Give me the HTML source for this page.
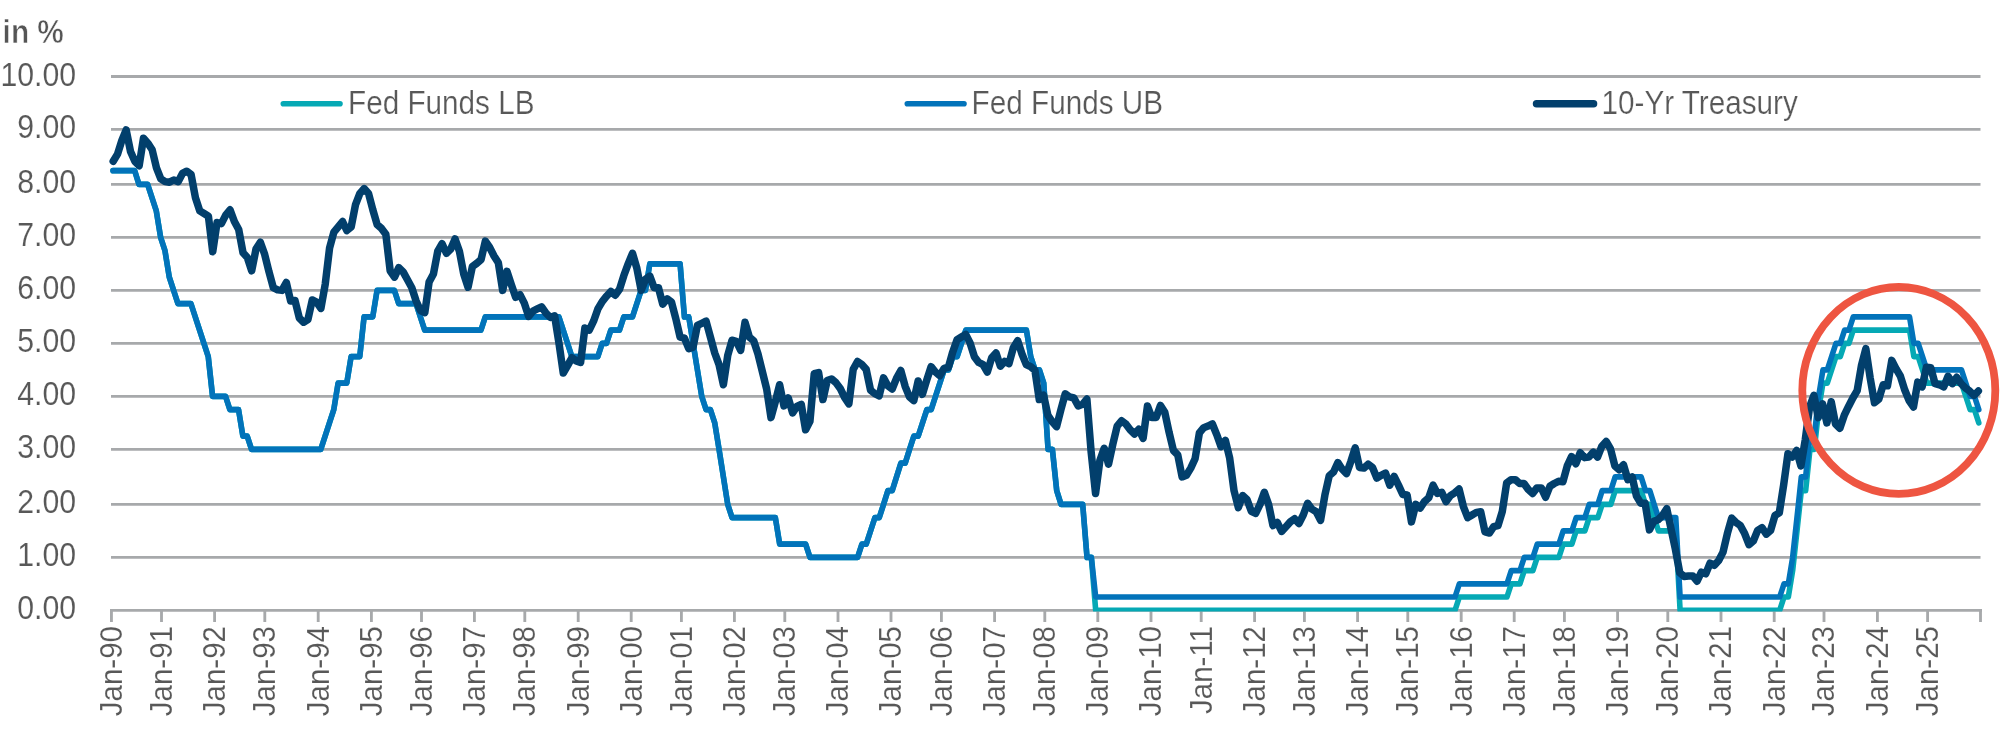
<!DOCTYPE html>
<html><head><meta charset="utf-8"><style>
html,body{margin:0;padding:0;background:#fff;}
body{width:2000px;height:734px;overflow:hidden;font-family:"Liberation Sans",sans-serif;}
svg{display:block;will-change:transform;}
</style></head><body>
<svg width="2000" height="734" viewBox="0 0 2000 734">
<line x1="111" y1="557.4" x2="1980.5" y2="557.4" stroke="#a7a9ab" stroke-width="2.9"/>
<line x1="111" y1="504.4" x2="1980.5" y2="504.4" stroke="#a7a9ab" stroke-width="2.9"/>
<line x1="111" y1="449.4" x2="1980.5" y2="449.4" stroke="#a7a9ab" stroke-width="2.9"/>
<line x1="111" y1="396.4" x2="1980.5" y2="396.4" stroke="#a7a9ab" stroke-width="2.9"/>
<line x1="111" y1="343.4" x2="1980.5" y2="343.4" stroke="#a7a9ab" stroke-width="2.9"/>
<line x1="111" y1="290.4" x2="1980.5" y2="290.4" stroke="#a7a9ab" stroke-width="2.9"/>
<line x1="111" y1="237.4" x2="1980.5" y2="237.4" stroke="#a7a9ab" stroke-width="2.9"/>
<line x1="111" y1="184.4" x2="1980.5" y2="184.4" stroke="#a7a9ab" stroke-width="2.9"/>
<line x1="111" y1="129.4" x2="1980.5" y2="129.4" stroke="#a7a9ab" stroke-width="2.9"/>
<line x1="111" y1="76.5" x2="1980.5" y2="76.5" stroke="#a7a9ab" stroke-width="2.9"/>
<line x1="110.0" y1="610.3" x2="1982.0" y2="610.3" stroke="#a7a9ab" stroke-width="2.85"/>
<line x1="111.45" y1="609" x2="111.45" y2="622" stroke="#a7a9ab" stroke-width="2.85"/>
<line x1="161.5" y1="609" x2="161.5" y2="622" stroke="#a7a9ab" stroke-width="2.85"/>
<line x1="214.6" y1="609" x2="214.6" y2="622" stroke="#a7a9ab" stroke-width="2.85"/>
<line x1="264.8" y1="609" x2="264.8" y2="622" stroke="#a7a9ab" stroke-width="2.85"/>
<line x1="318.2" y1="609" x2="318.2" y2="622" stroke="#a7a9ab" stroke-width="2.85"/>
<line x1="371.4" y1="609" x2="371.4" y2="622" stroke="#a7a9ab" stroke-width="2.85"/>
<line x1="421.5" y1="609" x2="421.5" y2="622" stroke="#a7a9ab" stroke-width="2.85"/>
<line x1="474.4" y1="609" x2="474.4" y2="622" stroke="#a7a9ab" stroke-width="2.85"/>
<line x1="524.8" y1="609" x2="524.8" y2="622" stroke="#a7a9ab" stroke-width="2.85"/>
<line x1="578.2" y1="609" x2="578.2" y2="622" stroke="#a7a9ab" stroke-width="2.85"/>
<line x1="631.2" y1="609" x2="631.2" y2="622" stroke="#a7a9ab" stroke-width="2.85"/>
<line x1="681.4" y1="609" x2="681.4" y2="622" stroke="#a7a9ab" stroke-width="2.85"/>
<line x1="734.4" y1="609" x2="734.4" y2="622" stroke="#a7a9ab" stroke-width="2.85"/>
<line x1="784.8" y1="609" x2="784.8" y2="622" stroke="#a7a9ab" stroke-width="2.85"/>
<line x1="838.0" y1="609" x2="838.0" y2="622" stroke="#a7a9ab" stroke-width="2.85"/>
<line x1="891.0" y1="609" x2="891.0" y2="622" stroke="#a7a9ab" stroke-width="2.85"/>
<line x1="941.4" y1="609" x2="941.4" y2="622" stroke="#a7a9ab" stroke-width="2.85"/>
<line x1="994.6" y1="609" x2="994.6" y2="622" stroke="#a7a9ab" stroke-width="2.85"/>
<line x1="1044.8" y1="609" x2="1044.8" y2="622" stroke="#a7a9ab" stroke-width="2.85"/>
<line x1="1097.8" y1="609" x2="1097.8" y2="622" stroke="#a7a9ab" stroke-width="2.85"/>
<line x1="1151.0" y1="609" x2="1151.0" y2="622" stroke="#a7a9ab" stroke-width="2.85"/>
<line x1="1201.2" y1="609" x2="1201.2" y2="622" stroke="#a7a9ab" stroke-width="2.85"/>
<line x1="1254.6" y1="609" x2="1254.6" y2="622" stroke="#a7a9ab" stroke-width="2.85"/>
<line x1="1304.4" y1="609" x2="1304.4" y2="622" stroke="#a7a9ab" stroke-width="2.85"/>
<line x1="1357.6" y1="609" x2="1357.6" y2="622" stroke="#a7a9ab" stroke-width="2.85"/>
<line x1="1407.8" y1="609" x2="1407.8" y2="622" stroke="#a7a9ab" stroke-width="2.85"/>
<line x1="1461.2" y1="609" x2="1461.2" y2="622" stroke="#a7a9ab" stroke-width="2.85"/>
<line x1="1514.2" y1="609" x2="1514.2" y2="622" stroke="#a7a9ab" stroke-width="2.85"/>
<line x1="1564.4" y1="609" x2="1564.4" y2="622" stroke="#a7a9ab" stroke-width="2.85"/>
<line x1="1617.6" y1="609" x2="1617.6" y2="622" stroke="#a7a9ab" stroke-width="2.85"/>
<line x1="1667.8" y1="609" x2="1667.8" y2="622" stroke="#a7a9ab" stroke-width="2.85"/>
<line x1="1721.0" y1="609" x2="1721.0" y2="622" stroke="#a7a9ab" stroke-width="2.85"/>
<line x1="1774.2" y1="609" x2="1774.2" y2="622" stroke="#a7a9ab" stroke-width="2.85"/>
<line x1="1824.0" y1="609" x2="1824.0" y2="622" stroke="#a7a9ab" stroke-width="2.85"/>
<line x1="1877.4" y1="609" x2="1877.4" y2="622" stroke="#a7a9ab" stroke-width="2.85"/>
<line x1="1927.6" y1="609" x2="1927.6" y2="622" stroke="#a7a9ab" stroke-width="2.85"/>
<line x1="1980.5" y1="609" x2="1980.5" y2="622" stroke="#a7a9ab" stroke-width="2.85"/>
<text transform="translate(76.1,619.3) scale(0.925,1)" text-anchor="end" font-family="Liberation Sans" font-size="32.7" fill="#585858" stroke="#fff" stroke-width="0.12">0.00</text>
<text transform="translate(76.1,566.4) scale(0.925,1)" text-anchor="end" font-family="Liberation Sans" font-size="32.7" fill="#585858" stroke="#fff" stroke-width="0.12">1.00</text>
<text transform="translate(76.1,513.4) scale(0.925,1)" text-anchor="end" font-family="Liberation Sans" font-size="32.7" fill="#585858" stroke="#fff" stroke-width="0.12">2.00</text>
<text transform="translate(76.1,458.4) scale(0.925,1)" text-anchor="end" font-family="Liberation Sans" font-size="32.7" fill="#585858" stroke="#fff" stroke-width="0.12">3.00</text>
<text transform="translate(76.1,405.4) scale(0.925,1)" text-anchor="end" font-family="Liberation Sans" font-size="32.7" fill="#585858" stroke="#fff" stroke-width="0.12">4.00</text>
<text transform="translate(76.1,352.4) scale(0.925,1)" text-anchor="end" font-family="Liberation Sans" font-size="32.7" fill="#585858" stroke="#fff" stroke-width="0.12">5.00</text>
<text transform="translate(76.1,299.4) scale(0.925,1)" text-anchor="end" font-family="Liberation Sans" font-size="32.7" fill="#585858" stroke="#fff" stroke-width="0.12">6.00</text>
<text transform="translate(76.1,246.4) scale(0.925,1)" text-anchor="end" font-family="Liberation Sans" font-size="32.7" fill="#585858" stroke="#fff" stroke-width="0.12">7.00</text>
<text transform="translate(76.1,193.4) scale(0.925,1)" text-anchor="end" font-family="Liberation Sans" font-size="32.7" fill="#585858" stroke="#fff" stroke-width="0.12">8.00</text>
<text transform="translate(76.1,138.4) scale(0.925,1)" text-anchor="end" font-family="Liberation Sans" font-size="32.7" fill="#585858" stroke="#fff" stroke-width="0.12">9.00</text>
<text transform="translate(76.1,85.5) scale(0.925,1)" text-anchor="end" font-family="Liberation Sans" font-size="32.7" fill="#585858" stroke="#fff" stroke-width="0.12">10.00</text>
<text transform="translate(121.8,626) rotate(-90) scale(0.946,1)" text-anchor="end" font-family="Liberation Sans" font-size="31.2" fill="#585858" stroke="#fff" stroke-width="0.12">Jan-90</text>
<text transform="translate(171.8,626) rotate(-90) scale(0.946,1)" text-anchor="end" font-family="Liberation Sans" font-size="31.2" fill="#585858" stroke="#fff" stroke-width="0.12">Jan-91</text>
<text transform="translate(224.9,626) rotate(-90) scale(0.946,1)" text-anchor="end" font-family="Liberation Sans" font-size="31.2" fill="#585858" stroke="#fff" stroke-width="0.12">Jan-92</text>
<text transform="translate(275.1,626) rotate(-90) scale(0.946,1)" text-anchor="end" font-family="Liberation Sans" font-size="31.2" fill="#585858" stroke="#fff" stroke-width="0.12">Jan-93</text>
<text transform="translate(328.5,626) rotate(-90) scale(0.946,1)" text-anchor="end" font-family="Liberation Sans" font-size="31.2" fill="#585858" stroke="#fff" stroke-width="0.12">Jan-94</text>
<text transform="translate(381.7,626) rotate(-90) scale(0.946,1)" text-anchor="end" font-family="Liberation Sans" font-size="31.2" fill="#585858" stroke="#fff" stroke-width="0.12">Jan-95</text>
<text transform="translate(431.8,626) rotate(-90) scale(0.946,1)" text-anchor="end" font-family="Liberation Sans" font-size="31.2" fill="#585858" stroke="#fff" stroke-width="0.12">Jan-96</text>
<text transform="translate(484.7,626) rotate(-90) scale(0.946,1)" text-anchor="end" font-family="Liberation Sans" font-size="31.2" fill="#585858" stroke="#fff" stroke-width="0.12">Jan-97</text>
<text transform="translate(535.1,626) rotate(-90) scale(0.946,1)" text-anchor="end" font-family="Liberation Sans" font-size="31.2" fill="#585858" stroke="#fff" stroke-width="0.12">Jan-98</text>
<text transform="translate(588.5,626) rotate(-90) scale(0.946,1)" text-anchor="end" font-family="Liberation Sans" font-size="31.2" fill="#585858" stroke="#fff" stroke-width="0.12">Jan-99</text>
<text transform="translate(641.5,626) rotate(-90) scale(0.946,1)" text-anchor="end" font-family="Liberation Sans" font-size="31.2" fill="#585858" stroke="#fff" stroke-width="0.12">Jan-00</text>
<text transform="translate(691.7,626) rotate(-90) scale(0.946,1)" text-anchor="end" font-family="Liberation Sans" font-size="31.2" fill="#585858" stroke="#fff" stroke-width="0.12">Jan-01</text>
<text transform="translate(744.7,626) rotate(-90) scale(0.946,1)" text-anchor="end" font-family="Liberation Sans" font-size="31.2" fill="#585858" stroke="#fff" stroke-width="0.12">Jan-02</text>
<text transform="translate(795.1,626) rotate(-90) scale(0.946,1)" text-anchor="end" font-family="Liberation Sans" font-size="31.2" fill="#585858" stroke="#fff" stroke-width="0.12">Jan-03</text>
<text transform="translate(848.3,626) rotate(-90) scale(0.946,1)" text-anchor="end" font-family="Liberation Sans" font-size="31.2" fill="#585858" stroke="#fff" stroke-width="0.12">Jan-04</text>
<text transform="translate(901.3,626) rotate(-90) scale(0.946,1)" text-anchor="end" font-family="Liberation Sans" font-size="31.2" fill="#585858" stroke="#fff" stroke-width="0.12">Jan-05</text>
<text transform="translate(951.7,626) rotate(-90) scale(0.946,1)" text-anchor="end" font-family="Liberation Sans" font-size="31.2" fill="#585858" stroke="#fff" stroke-width="0.12">Jan-06</text>
<text transform="translate(1004.9,626) rotate(-90) scale(0.946,1)" text-anchor="end" font-family="Liberation Sans" font-size="31.2" fill="#585858" stroke="#fff" stroke-width="0.12">Jan-07</text>
<text transform="translate(1055.1,626) rotate(-90) scale(0.946,1)" text-anchor="end" font-family="Liberation Sans" font-size="31.2" fill="#585858" stroke="#fff" stroke-width="0.12">Jan-08</text>
<text transform="translate(1108.1,626) rotate(-90) scale(0.946,1)" text-anchor="end" font-family="Liberation Sans" font-size="31.2" fill="#585858" stroke="#fff" stroke-width="0.12">Jan-09</text>
<text transform="translate(1161.3,626) rotate(-90) scale(0.946,1)" text-anchor="end" font-family="Liberation Sans" font-size="31.2" fill="#585858" stroke="#fff" stroke-width="0.12">Jan-10</text>
<text transform="translate(1211.5,626) rotate(-90) scale(0.946,1)" text-anchor="end" font-family="Liberation Sans" font-size="31.2" fill="#585858" stroke="#fff" stroke-width="0.12">Jan-11</text>
<text transform="translate(1264.9,626) rotate(-90) scale(0.946,1)" text-anchor="end" font-family="Liberation Sans" font-size="31.2" fill="#585858" stroke="#fff" stroke-width="0.12">Jan-12</text>
<text transform="translate(1314.7,626) rotate(-90) scale(0.946,1)" text-anchor="end" font-family="Liberation Sans" font-size="31.2" fill="#585858" stroke="#fff" stroke-width="0.12">Jan-13</text>
<text transform="translate(1367.9,626) rotate(-90) scale(0.946,1)" text-anchor="end" font-family="Liberation Sans" font-size="31.2" fill="#585858" stroke="#fff" stroke-width="0.12">Jan-14</text>
<text transform="translate(1418.1,626) rotate(-90) scale(0.946,1)" text-anchor="end" font-family="Liberation Sans" font-size="31.2" fill="#585858" stroke="#fff" stroke-width="0.12">Jan-15</text>
<text transform="translate(1471.5,626) rotate(-90) scale(0.946,1)" text-anchor="end" font-family="Liberation Sans" font-size="31.2" fill="#585858" stroke="#fff" stroke-width="0.12">Jan-16</text>
<text transform="translate(1524.5,626) rotate(-90) scale(0.946,1)" text-anchor="end" font-family="Liberation Sans" font-size="31.2" fill="#585858" stroke="#fff" stroke-width="0.12">Jan-17</text>
<text transform="translate(1574.7,626) rotate(-90) scale(0.946,1)" text-anchor="end" font-family="Liberation Sans" font-size="31.2" fill="#585858" stroke="#fff" stroke-width="0.12">Jan-18</text>
<text transform="translate(1627.9,626) rotate(-90) scale(0.946,1)" text-anchor="end" font-family="Liberation Sans" font-size="31.2" fill="#585858" stroke="#fff" stroke-width="0.12">Jan-19</text>
<text transform="translate(1678.1,626) rotate(-90) scale(0.946,1)" text-anchor="end" font-family="Liberation Sans" font-size="31.2" fill="#585858" stroke="#fff" stroke-width="0.12">Jan-20</text>
<text transform="translate(1731.3,626) rotate(-90) scale(0.946,1)" text-anchor="end" font-family="Liberation Sans" font-size="31.2" fill="#585858" stroke="#fff" stroke-width="0.12">Jan-21</text>
<text transform="translate(1784.5,626) rotate(-90) scale(0.946,1)" text-anchor="end" font-family="Liberation Sans" font-size="31.2" fill="#585858" stroke="#fff" stroke-width="0.12">Jan-22</text>
<text transform="translate(1834.3,626) rotate(-90) scale(0.946,1)" text-anchor="end" font-family="Liberation Sans" font-size="31.2" fill="#585858" stroke="#fff" stroke-width="0.12">Jan-23</text>
<text transform="translate(1887.7,626) rotate(-90) scale(0.946,1)" text-anchor="end" font-family="Liberation Sans" font-size="31.2" fill="#585858" stroke="#fff" stroke-width="0.12">Jan-24</text>
<text transform="translate(1937.9,626) rotate(-90) scale(0.946,1)" text-anchor="end" font-family="Liberation Sans" font-size="31.2" fill="#585858" stroke="#fff" stroke-width="0.12">Jan-25</text>
<text transform="translate(2.6,43) scale(0.917,1)" font-family="Liberation Sans" font-weight="bold" font-size="32.5" fill="#555555" stroke="#fff" stroke-width="0.6">in %</text>
<line x1="283.3" y1="103.8" x2="340.0" y2="103.8" stroke="#05a9b5" stroke-width="5.6" stroke-linecap="round"/>
<text transform="translate(348.0,113.8) scale(0.9,1)" font-family="Liberation Sans" font-size="33.0" fill="#585858" stroke="#fff" stroke-width="0.25">Fed Funds LB</text>
<line x1="907.3" y1="103.8" x2="964.0" y2="103.8" stroke="#0273ba" stroke-width="5.6" stroke-linecap="round"/>
<text transform="translate(971.6,113.8) scale(0.9,1)" font-family="Liberation Sans" font-size="33.0" fill="#585858" stroke="#fff" stroke-width="0.25">Fed Funds UB</text>
<line x1="1536.55" y1="103.8" x2="1593.55" y2="103.8" stroke="#023f6c" stroke-width="7.5" stroke-linecap="round"/>
<text transform="translate(1601.5,113.8) scale(0.9,1)" font-family="Liberation Sans" font-size="33.0" fill="#585858" stroke="#fff" stroke-width="0.25">10-Yr Treasury</text>
<defs><clipPath id="pc"><rect x="0" y="0" width="2000" height="611.4"/></clipPath></defs><g clip-path="url(#pc)">
<path d="M113.00,170.65 L117.33,170.65 L121.66,170.65 L125.99,170.65 L130.32,170.65 L134.65,170.65 L138.97,184.40 L143.30,184.40 L147.63,184.40 L151.96,197.65 L156.29,210.90 L160.62,237.40 L164.95,250.65 L169.28,277.15 L173.61,290.40 L177.94,303.65 L182.26,303.65 L186.59,303.65 L190.92,303.65 L195.25,316.90 L199.58,330.15 L203.91,343.40 L208.24,356.65 L212.57,396.40 L216.90,396.40 L221.22,396.40 L225.55,396.40 L229.88,409.65 L234.21,409.65 L238.54,409.65 L242.87,436.15 L247.20,436.15 L251.53,449.40 L255.86,449.40 L260.19,449.40 L264.51,449.40 L268.84,449.40 L273.17,449.40 L277.50,449.40 L281.83,449.40 L286.16,449.40 L290.49,449.40 L294.82,449.40 L299.15,449.40 L303.48,449.40 L307.80,449.40 L312.13,449.40 L316.46,449.40 L320.79,449.40 L325.12,436.15 L329.45,422.90 L333.78,409.65 L338.11,383.15 L342.44,383.15 L346.77,383.15 L351.10,356.65 L355.42,356.65 L359.75,356.65 L364.08,316.90 L368.41,316.90 L372.74,316.90 L377.07,290.40 L381.40,290.40 L385.73,290.40 L390.06,290.40 L394.38,290.40 L398.71,303.65 L403.04,303.65 L407.37,303.65 L411.70,303.65 L416.03,303.65 L420.36,316.90 L424.69,330.15 L429.02,330.15 L433.35,330.15 L437.67,330.15 L442.00,330.15 L446.33,330.15 L450.66,330.15 L454.99,330.15 L459.32,330.15 L463.65,330.15 L467.98,330.15 L472.31,330.15 L476.64,330.15 L480.96,330.15 L485.29,316.90 L489.62,316.90 L493.95,316.90 L498.28,316.90 L502.61,316.90 L506.94,316.90 L511.27,316.90 L515.60,316.90 L519.93,316.90 L524.25,316.90 L528.58,316.90 L532.91,316.90 L537.24,316.90 L541.57,316.90 L545.90,316.90 L550.23,316.90 L554.56,316.90 L558.89,316.90 L563.22,330.15 L567.54,343.40 L571.87,356.65 L576.20,356.65 L580.53,356.65 L584.86,356.65 L589.19,356.65 L593.52,356.65 L597.85,356.65 L602.18,343.40 L606.51,343.40 L610.84,330.15 L615.16,330.15 L619.49,330.15 L623.82,316.90 L628.15,316.90 L632.48,316.90 L636.81,303.65 L641.14,290.40 L645.47,290.40 L649.80,263.90 L654.12,263.90 L658.45,263.90 L662.78,263.90 L667.11,263.90 L671.44,263.90 L675.77,263.90 L680.10,263.90 L684.43,316.90 L688.76,316.90 L693.09,343.40 L697.41,369.90 L701.74,396.40 L706.07,409.65 L710.40,409.65 L714.73,422.90 L719.06,449.40 L723.39,476.90 L727.72,504.40 L732.05,517.65 L736.38,517.65 L740.70,517.65 L745.03,517.65 L749.36,517.65 L753.69,517.65 L758.02,517.65 L762.35,517.65 L766.68,517.65 L771.01,517.65 L775.34,517.65 L779.67,544.15 L784.00,544.15 L788.32,544.15 L792.65,544.15 L796.98,544.15 L801.31,544.15 L805.64,544.15 L809.97,557.40 L814.30,557.40 L818.63,557.40 L822.96,557.40 L827.28,557.40 L831.61,557.40 L835.94,557.40 L840.27,557.40 L844.60,557.40 L848.93,557.40 L853.26,557.40 L857.59,557.40 L861.92,544.15 L866.25,544.15 L870.57,530.90 L874.90,517.65 L879.23,517.65 L883.56,504.40 L887.89,490.65 L892.22,490.65 L896.55,476.90 L900.88,463.15 L905.21,463.15 L909.54,449.40 L913.86,436.15 L918.19,436.15 L922.52,422.90 L926.85,409.65 L931.18,409.65 L935.51,396.40 L939.84,383.15 L944.17,369.90 L948.50,369.90 L952.83,356.65 L957.15,356.65 L961.48,343.40 L965.81,330.15 L970.14,330.15 L974.47,330.15 L978.80,330.15 L983.13,330.15 L987.46,330.15 L991.79,330.15 L996.12,330.15 L1000.44,330.15 L1004.77,330.15 L1009.10,330.15 L1013.43,330.15 L1017.76,330.15 L1022.09,330.15 L1026.42,330.15 L1030.75,356.65 L1035.08,369.90 L1039.41,369.90 L1043.73,383.15 L1048.06,449.40 L1052.39,449.40 L1056.72,490.65 L1061.05,504.40 L1065.38,504.40 L1069.71,504.40 L1074.04,504.40 L1078.37,504.40 L1082.70,504.40 L1087.03,557.40 L1091.35,557.40 L1095.68,610.30 L1100.01,610.30 L1104.34,610.30 L1108.67,610.30 L1113.00,610.30 L1117.33,610.30 L1121.66,610.30 L1125.99,610.30 L1130.32,610.30 L1134.64,610.30 L1138.97,610.30 L1143.30,610.30 L1147.63,610.30 L1151.96,610.30 L1156.29,610.30 L1160.62,610.30 L1164.95,610.30 L1169.28,610.30 L1173.61,610.30 L1177.93,610.30 L1182.26,610.30 L1186.59,610.30 L1190.92,610.30 L1195.25,610.30 L1199.58,610.30 L1203.91,610.30 L1208.24,610.30 L1212.57,610.30 L1216.89,610.30 L1221.22,610.30 L1225.55,610.30 L1229.88,610.30 L1234.21,610.30 L1238.54,610.30 L1242.87,610.30 L1247.20,610.30 L1251.53,610.30 L1255.86,610.30 L1260.18,610.30 L1264.51,610.30 L1268.84,610.30 L1273.17,610.30 L1277.50,610.30 L1281.83,610.30 L1286.16,610.30 L1290.49,610.30 L1294.82,610.30 L1299.15,610.30 L1303.47,610.30 L1307.80,610.30 L1312.13,610.30 L1316.46,610.30 L1320.79,610.30 L1325.12,610.30 L1329.45,610.30 L1333.78,610.30 L1338.11,610.30 L1342.44,610.30 L1346.76,610.30 L1351.09,610.30 L1355.42,610.30 L1359.75,610.30 L1364.08,610.30 L1368.41,610.30 L1372.74,610.30 L1377.07,610.30 L1381.40,610.30 L1385.73,610.30 L1390.05,610.30 L1394.38,610.30 L1398.71,610.30 L1403.04,610.30 L1407.37,610.30 L1411.70,610.30 L1416.03,610.30 L1420.36,610.30 L1424.69,610.30 L1429.02,610.30 L1433.35,610.30 L1437.67,610.30 L1442.00,610.30 L1446.33,610.30 L1450.66,610.30 L1454.99,610.30 L1459.32,597.07 L1463.65,597.07 L1467.98,597.07 L1472.31,597.07 L1476.63,597.07 L1480.96,597.07 L1485.29,597.07 L1489.62,597.07 L1493.95,597.07 L1498.28,597.07 L1502.61,597.07 L1506.94,597.07 L1511.27,583.85 L1515.60,583.85 L1519.92,583.85 L1524.25,570.62 L1528.58,570.62 L1532.91,570.62 L1537.24,557.40 L1541.57,557.40 L1545.90,557.40 L1550.23,557.40 L1554.56,557.40 L1558.89,557.40 L1563.21,544.15 L1567.54,544.15 L1571.87,544.15 L1576.20,530.90 L1580.53,530.90 L1584.86,530.90 L1589.19,517.65 L1593.52,517.65 L1597.85,517.65 L1602.18,504.40 L1606.50,504.40 L1610.83,504.40 L1615.16,490.65 L1619.49,490.65 L1623.82,490.65 L1628.15,490.65 L1632.48,490.65 L1636.81,490.65 L1641.14,490.65 L1645.47,504.40 L1649.79,504.40 L1654.12,517.65 L1658.45,530.90 L1662.78,530.90 L1667.11,530.90 L1671.44,530.90 L1675.77,530.90 L1680.10,610.30 L1684.43,610.30 L1688.76,610.30 L1693.08,610.30 L1697.41,610.30 L1701.74,610.30 L1706.07,610.30 L1710.40,610.30 L1714.73,610.30 L1719.06,610.30 L1723.39,610.30 L1727.72,610.30 L1732.05,610.30 L1736.38,610.30 L1740.70,610.30 L1745.03,610.30 L1749.36,610.30 L1753.69,610.30 L1758.02,610.30 L1762.35,610.30 L1766.68,610.30 L1771.01,610.30 L1775.34,610.30 L1779.66,610.30 L1783.99,597.07 L1788.32,597.07 L1792.65,570.62 L1796.98,530.90 L1801.31,490.65 L1805.64,490.65 L1809.97,449.40 L1814.30,449.40 L1818.63,409.65 L1822.95,383.15 L1827.28,383.15 L1831.61,369.90 L1835.94,356.65 L1840.27,356.65 L1844.60,343.40 L1848.93,343.40 L1853.26,330.15 L1857.59,330.15 L1861.92,330.15 L1866.24,330.15 L1870.57,330.15 L1874.90,330.15 L1879.23,330.15 L1883.56,330.15 L1887.89,330.15 L1892.22,330.15 L1896.55,330.15 L1900.88,330.15 L1905.21,330.15 L1909.53,330.15 L1913.86,356.65 L1918.19,356.65 L1922.52,369.90 L1926.85,383.15 L1931.18,383.15 L1935.51,383.15 L1939.84,383.15 L1944.17,383.15 L1948.50,383.15 L1952.82,383.15 L1957.15,383.15 L1961.48,383.15 L1965.81,396.40 L1970.14,409.65 L1974.47,409.65 L1978.80,422.90" fill="none" stroke="#05a9b5" stroke-width="5.6" stroke-linejoin="round" stroke-linecap="round"/>
<path d="M113.00,170.65 L117.33,170.65 L121.66,170.65 L125.99,170.65 L130.32,170.65 L134.65,170.65 L138.97,184.40 L143.30,184.40 L147.63,184.40 L151.96,197.65 L156.29,210.90 L160.62,237.40 L164.95,250.65 L169.28,277.15 L173.61,290.40 L177.94,303.65 L182.26,303.65 L186.59,303.65 L190.92,303.65 L195.25,316.90 L199.58,330.15 L203.91,343.40 L208.24,356.65 L212.57,396.40 L216.90,396.40 L221.22,396.40 L225.55,396.40 L229.88,409.65 L234.21,409.65 L238.54,409.65 L242.87,436.15 L247.20,436.15 L251.53,449.40 L255.86,449.40 L260.19,449.40 L264.51,449.40 L268.84,449.40 L273.17,449.40 L277.50,449.40 L281.83,449.40 L286.16,449.40 L290.49,449.40 L294.82,449.40 L299.15,449.40 L303.48,449.40 L307.80,449.40 L312.13,449.40 L316.46,449.40 L320.79,449.40 L325.12,436.15 L329.45,422.90 L333.78,409.65 L338.11,383.15 L342.44,383.15 L346.77,383.15 L351.10,356.65 L355.42,356.65 L359.75,356.65 L364.08,316.90 L368.41,316.90 L372.74,316.90 L377.07,290.40 L381.40,290.40 L385.73,290.40 L390.06,290.40 L394.38,290.40 L398.71,303.65 L403.04,303.65 L407.37,303.65 L411.70,303.65 L416.03,303.65 L420.36,316.90 L424.69,330.15 L429.02,330.15 L433.35,330.15 L437.67,330.15 L442.00,330.15 L446.33,330.15 L450.66,330.15 L454.99,330.15 L459.32,330.15 L463.65,330.15 L467.98,330.15 L472.31,330.15 L476.64,330.15 L480.96,330.15 L485.29,316.90 L489.62,316.90 L493.95,316.90 L498.28,316.90 L502.61,316.90 L506.94,316.90 L511.27,316.90 L515.60,316.90 L519.93,316.90 L524.25,316.90 L528.58,316.90 L532.91,316.90 L537.24,316.90 L541.57,316.90 L545.90,316.90 L550.23,316.90 L554.56,316.90 L558.89,316.90 L563.22,330.15 L567.54,343.40 L571.87,356.65 L576.20,356.65 L580.53,356.65 L584.86,356.65 L589.19,356.65 L593.52,356.65 L597.85,356.65 L602.18,343.40 L606.51,343.40 L610.84,330.15 L615.16,330.15 L619.49,330.15 L623.82,316.90 L628.15,316.90 L632.48,316.90 L636.81,303.65 L641.14,290.40 L645.47,290.40 L649.80,263.90 L654.12,263.90 L658.45,263.90 L662.78,263.90 L667.11,263.90 L671.44,263.90 L675.77,263.90 L680.10,263.90 L684.43,316.90 L688.76,316.90 L693.09,343.40 L697.41,369.90 L701.74,396.40 L706.07,409.65 L710.40,409.65 L714.73,422.90 L719.06,449.40 L723.39,476.90 L727.72,504.40 L732.05,517.65 L736.38,517.65 L740.70,517.65 L745.03,517.65 L749.36,517.65 L753.69,517.65 L758.02,517.65 L762.35,517.65 L766.68,517.65 L771.01,517.65 L775.34,517.65 L779.67,544.15 L784.00,544.15 L788.32,544.15 L792.65,544.15 L796.98,544.15 L801.31,544.15 L805.64,544.15 L809.97,557.40 L814.30,557.40 L818.63,557.40 L822.96,557.40 L827.28,557.40 L831.61,557.40 L835.94,557.40 L840.27,557.40 L844.60,557.40 L848.93,557.40 L853.26,557.40 L857.59,557.40 L861.92,544.15 L866.25,544.15 L870.57,530.90 L874.90,517.65 L879.23,517.65 L883.56,504.40 L887.89,490.65 L892.22,490.65 L896.55,476.90 L900.88,463.15 L905.21,463.15 L909.54,449.40 L913.86,436.15 L918.19,436.15 L922.52,422.90 L926.85,409.65 L931.18,409.65 L935.51,396.40 L939.84,383.15 L944.17,369.90 L948.50,369.90 L952.83,356.65 L957.15,356.65 L961.48,343.40 L965.81,330.15 L970.14,330.15 L974.47,330.15 L978.80,330.15 L983.13,330.15 L987.46,330.15 L991.79,330.15 L996.12,330.15 L1000.44,330.15 L1004.77,330.15 L1009.10,330.15 L1013.43,330.15 L1017.76,330.15 L1022.09,330.15 L1026.42,330.15 L1030.75,356.65 L1035.08,369.90 L1039.41,369.90 L1043.73,383.15 L1048.06,449.40 L1052.39,449.40 L1056.72,490.65 L1061.05,504.40 L1065.38,504.40 L1069.71,504.40 L1074.04,504.40 L1078.37,504.40 L1082.70,504.40 L1087.03,557.40 L1091.35,557.40 L1095.68,597.07 L1100.01,597.07 L1104.34,597.07 L1108.67,597.07 L1113.00,597.07 L1117.33,597.07 L1121.66,597.07 L1125.99,597.07 L1130.32,597.07 L1134.64,597.07 L1138.97,597.07 L1143.30,597.07 L1147.63,597.07 L1151.96,597.07 L1156.29,597.07 L1160.62,597.07 L1164.95,597.07 L1169.28,597.07 L1173.61,597.07 L1177.93,597.07 L1182.26,597.07 L1186.59,597.07 L1190.92,597.07 L1195.25,597.07 L1199.58,597.07 L1203.91,597.07 L1208.24,597.07 L1212.57,597.07 L1216.89,597.07 L1221.22,597.07 L1225.55,597.07 L1229.88,597.07 L1234.21,597.07 L1238.54,597.07 L1242.87,597.07 L1247.20,597.07 L1251.53,597.07 L1255.86,597.07 L1260.18,597.07 L1264.51,597.07 L1268.84,597.07 L1273.17,597.07 L1277.50,597.07 L1281.83,597.07 L1286.16,597.07 L1290.49,597.07 L1294.82,597.07 L1299.15,597.07 L1303.47,597.07 L1307.80,597.07 L1312.13,597.07 L1316.46,597.07 L1320.79,597.07 L1325.12,597.07 L1329.45,597.07 L1333.78,597.07 L1338.11,597.07 L1342.44,597.07 L1346.76,597.07 L1351.09,597.07 L1355.42,597.07 L1359.75,597.07 L1364.08,597.07 L1368.41,597.07 L1372.74,597.07 L1377.07,597.07 L1381.40,597.07 L1385.73,597.07 L1390.05,597.07 L1394.38,597.07 L1398.71,597.07 L1403.04,597.07 L1407.37,597.07 L1411.70,597.07 L1416.03,597.07 L1420.36,597.07 L1424.69,597.07 L1429.02,597.07 L1433.35,597.07 L1437.67,597.07 L1442.00,597.07 L1446.33,597.07 L1450.66,597.07 L1454.99,597.07 L1459.32,583.85 L1463.65,583.85 L1467.98,583.85 L1472.31,583.85 L1476.63,583.85 L1480.96,583.85 L1485.29,583.85 L1489.62,583.85 L1493.95,583.85 L1498.28,583.85 L1502.61,583.85 L1506.94,583.85 L1511.27,570.62 L1515.60,570.62 L1519.92,570.62 L1524.25,557.40 L1528.58,557.40 L1532.91,557.40 L1537.24,544.15 L1541.57,544.15 L1545.90,544.15 L1550.23,544.15 L1554.56,544.15 L1558.89,544.15 L1563.21,530.90 L1567.54,530.90 L1571.87,530.90 L1576.20,517.65 L1580.53,517.65 L1584.86,517.65 L1589.19,504.40 L1593.52,504.40 L1597.85,504.40 L1602.18,490.65 L1606.50,490.65 L1610.83,490.65 L1615.16,476.90 L1619.49,476.90 L1623.82,476.90 L1628.15,476.90 L1632.48,476.90 L1636.81,476.90 L1641.14,476.90 L1645.47,490.65 L1649.79,490.65 L1654.12,504.40 L1658.45,517.65 L1662.78,517.65 L1667.11,517.65 L1671.44,517.65 L1675.77,517.65 L1680.10,597.07 L1684.43,597.07 L1688.76,597.07 L1693.08,597.07 L1697.41,597.07 L1701.74,597.07 L1706.07,597.07 L1710.40,597.07 L1714.73,597.07 L1719.06,597.07 L1723.39,597.07 L1727.72,597.07 L1732.05,597.07 L1736.38,597.07 L1740.70,597.07 L1745.03,597.07 L1749.36,597.07 L1753.69,597.07 L1758.02,597.07 L1762.35,597.07 L1766.68,597.07 L1771.01,597.07 L1775.34,597.07 L1779.66,597.07 L1783.99,583.85 L1788.32,583.85 L1792.65,557.40 L1796.98,517.65 L1801.31,476.90 L1805.64,476.90 L1809.97,436.15 L1814.30,436.15 L1818.63,396.40 L1822.95,369.90 L1827.28,369.90 L1831.61,356.65 L1835.94,343.40 L1840.27,343.40 L1844.60,330.15 L1848.93,330.15 L1853.26,316.90 L1857.59,316.90 L1861.92,316.90 L1866.24,316.90 L1870.57,316.90 L1874.90,316.90 L1879.23,316.90 L1883.56,316.90 L1887.89,316.90 L1892.22,316.90 L1896.55,316.90 L1900.88,316.90 L1905.21,316.90 L1909.53,316.90 L1913.86,343.40 L1918.19,343.40 L1922.52,356.65 L1926.85,369.90 L1931.18,369.90 L1935.51,369.90 L1939.84,369.90 L1944.17,369.90 L1948.50,369.90 L1952.82,369.90 L1957.15,369.90 L1961.48,369.90 L1965.81,383.15 L1970.14,396.40 L1974.47,396.40 L1978.80,409.65" fill="none" stroke="#0273ba" stroke-width="5.6" stroke-linejoin="round" stroke-linecap="round"/>
<path d="M113.20,161.30 L117.53,154.15 L121.86,140.40 L126.18,129.95 L130.51,151.40 L134.84,161.30 L139.16,165.70 L143.49,138.20 L147.82,143.15 L152.15,149.75 L156.47,167.90 L160.80,178.90 L165.13,181.65 L169.46,182.20 L173.78,180.00 L178.11,181.65 L182.44,173.40 L186.77,171.20 L191.09,174.50 L195.42,197.65 L199.75,210.90 L204.08,213.55 L208.41,216.20 L212.73,251.71 L217.06,222.56 L221.39,223.62 L225.71,215.14 L230.04,209.84 L234.37,221.50 L238.70,229.45 L243.02,252.77 L247.35,257.54 L251.68,270.79 L256.01,249.06 L260.33,242.17 L264.66,254.36 L268.99,271.85 L273.32,287.75 L277.64,289.87 L281.97,290.40 L286.30,282.45 L290.63,301.00 L294.95,300.47 L299.28,317.96 L303.61,322.20 L307.94,319.55 L312.26,299.94 L316.59,302.06 L320.92,308.42 L325.25,284.04 L329.57,248.00 L333.90,232.10 L338.23,226.80 L342.56,221.50 L346.88,230.51 L351.21,226.80 L355.54,204.54 L359.87,193.41 L364.19,188.64 L368.52,193.41 L372.85,209.84 L377.18,224.68 L381.50,228.39 L385.83,234.22 L390.16,270.79 L394.49,277.15 L398.81,267.61 L403.14,271.85 L407.47,279.80 L411.80,287.75 L416.12,301.00 L420.45,310.54 L424.78,312.66 L429.11,281.92 L433.43,273.97 L437.76,251.18 L442.09,243.76 L446.42,253.30 L450.74,249.06 L455.07,238.99 L459.40,251.18 L463.73,273.97 L468.05,287.22 L472.38,266.55 L476.71,263.37 L481.04,259.66 L485.36,241.11 L489.69,247.47 L494.02,255.95 L498.35,262.84 L502.67,290.40 L507.00,271.32 L511.33,284.57 L515.66,297.29 L519.99,294.64 L524.31,303.12 L528.64,316.37 L532.97,311.07 L537.29,308.95 L541.62,306.83 L545.95,313.19 L550.28,317.43 L554.61,315.84 L558.93,342.87 L563.26,373.08 L567.59,365.66 L571.91,357.71 L576.24,360.89 L580.57,362.48 L584.90,328.03 L589.23,330.15 L593.55,321.14 L597.88,308.95 L602.21,301.53 L606.53,296.23 L610.86,291.46 L615.19,295.17 L619.52,289.34 L623.85,275.56 L628.17,263.90 L632.50,253.30 L636.83,268.14 L641.15,290.40 L645.48,279.27 L649.81,276.09 L654.14,287.75 L658.47,287.75 L662.79,304.18 L667.12,298.88 L671.45,302.06 L675.77,318.49 L680.10,337.04 L684.43,338.10 L688.76,348.70 L693.09,347.11 L697.41,325.38 L701.74,323.26 L706.07,321.14 L710.39,337.04 L714.72,352.94 L719.05,364.60 L723.38,384.74 L727.71,355.59 L732.03,340.22 L736.36,341.28 L740.69,350.29 L745.01,322.20 L749.34,337.04 L753.67,340.75 L758.00,354.00 L762.33,371.49 L766.65,388.98 L770.98,417.60 L775.31,401.70 L779.63,384.74 L783.96,405.94 L788.29,397.99 L792.62,412.83 L796.95,406.47 L801.27,404.35 L805.60,429.79 L809.93,421.31 L814.25,373.61 L818.58,372.55 L822.91,399.58 L827.24,380.50 L831.56,378.91 L835.89,382.62 L840.22,388.45 L844.55,397.46 L848.88,403.82 L853.20,369.37 L857.53,361.42 L861.86,364.60 L866.18,369.37 L870.51,390.04 L874.84,393.75 L879.17,395.87 L883.50,377.85 L887.82,385.80 L892.15,388.98 L896.48,378.38 L900.80,370.43 L905.13,386.33 L909.46,396.93 L913.79,400.64 L918.12,381.03 L922.44,394.28 L926.77,379.97 L931.10,366.72 L935.42,372.02 L939.75,375.73 L944.08,368.31 L948.41,367.25 L952.74,351.88 L957.06,339.69 L961.39,337.04 L965.72,334.39 L970.04,342.87 L974.37,356.65 L978.70,362.48 L983.03,364.60 L987.36,372.02 L991.68,357.71 L996.01,352.94 L1000.34,366.19 L1004.66,361.42 L1008.99,363.54 L1013.32,347.64 L1017.65,340.75 L1021.98,354.00 L1026.30,364.60 L1030.63,366.72 L1034.96,370.43 L1039.28,399.58 L1043.61,395.34 L1047.94,415.48 L1052.27,421.84 L1056.60,426.61 L1060.92,409.65 L1065.25,393.75 L1069.58,396.93 L1073.90,397.99 L1078.23,405.94 L1082.56,404.35 L1086.89,399.05 L1091.21,452.70 L1095.54,493.40 L1099.87,460.40 L1104.20,448.34 L1108.52,464.25 L1112.85,444.10 L1117.18,426.08 L1121.51,420.78 L1125.83,423.96 L1130.16,429.79 L1134.49,434.03 L1138.82,429.26 L1143.14,438.27 L1147.47,405.94 L1151.80,417.60 L1156.13,417.60 L1160.45,405.41 L1164.78,412.30 L1169.11,432.44 L1173.44,450.50 L1177.76,454.90 L1182.09,476.90 L1186.42,475.25 L1190.75,468.10 L1195.08,458.75 L1199.40,432.97 L1203.73,427.67 L1208.06,426.08 L1212.38,423.96 L1216.71,434.56 L1221.04,446.75 L1225.37,440.39 L1229.69,458.20 L1234.02,490.65 L1238.35,507.58 L1242.68,495.60 L1247.00,499.45 L1251.33,511.29 L1255.66,513.41 L1259.99,504.40 L1264.32,492.30 L1268.64,504.40 L1272.97,525.60 L1277.30,522.42 L1281.62,531.43 L1285.95,526.66 L1290.28,521.89 L1294.61,518.71 L1298.93,523.48 L1303.26,515.00 L1307.59,503.30 L1311.92,509.17 L1316.24,511.82 L1320.57,520.30 L1324.90,495.05 L1329.23,475.80 L1333.56,471.95 L1337.88,462.60 L1342.21,469.20 L1346.54,473.60 L1350.87,461.50 L1355.19,447.81 L1359.52,467.55 L1363.85,468.10 L1368.17,464.25 L1372.50,467.55 L1376.83,478.00 L1381.16,475.25 L1385.48,473.05 L1389.81,485.15 L1394.14,476.35 L1398.47,485.15 L1402.79,494.50 L1407.12,495.05 L1411.45,521.89 L1415.78,504.40 L1420.11,508.11 L1424.43,501.65 L1428.76,497.80 L1433.09,485.15 L1437.41,493.40 L1441.74,492.30 L1446.07,501.65 L1450.40,495.60 L1454.72,492.85 L1459.05,489.00 L1463.38,506.52 L1467.71,517.65 L1472.03,515.00 L1476.36,512.35 L1480.69,511.82 L1485.02,531.96 L1489.35,533.02 L1493.67,526.66 L1498.00,525.60 L1502.33,511.29 L1506.65,482.95 L1510.98,479.65 L1515.31,479.65 L1519.64,483.50 L1523.96,483.50 L1528.29,489.55 L1532.62,493.40 L1536.95,487.90 L1541.27,487.90 L1545.60,497.25 L1549.93,486.25 L1554.26,483.50 L1558.59,481.30 L1562.91,481.85 L1567.24,465.90 L1571.57,456.55 L1575.89,463.70 L1580.22,452.70 L1584.55,457.65 L1588.88,457.10 L1593.20,452.15 L1597.53,457.10 L1601.86,446.22 L1606.19,441.45 L1610.51,448.87 L1614.84,465.90 L1619.17,469.75 L1623.50,464.80 L1627.83,479.65 L1632.15,476.90 L1636.48,496.15 L1640.81,503.30 L1645.13,503.30 L1649.46,529.84 L1653.79,521.36 L1658.12,519.77 L1662.44,515.53 L1666.77,508.64 L1671.10,529.31 L1675.43,549.45 L1679.75,572.74 L1684.08,576.44 L1688.41,575.91 L1692.74,575.91 L1697.06,581.20 L1701.39,572.21 L1705.72,573.80 L1710.05,563.22 L1714.38,565.33 L1718.70,560.57 L1723.03,552.10 L1727.36,533.55 L1731.68,518.18 L1736.01,522.42 L1740.34,525.60 L1744.67,533.55 L1748.99,544.68 L1753.32,540.97 L1757.65,530.37 L1761.98,527.72 L1766.30,534.08 L1770.63,530.37 L1774.96,515.53 L1779.29,512.88 L1783.62,485.15 L1787.94,453.80 L1792.27,457.10 L1796.60,450.50 L1800.92,465.90 L1805.25,439.86 L1809.58,407.00 L1813.91,395.34 L1818.23,417.60 L1822.56,403.82 L1826.89,422.90 L1831.22,401.70 L1835.54,423.96 L1839.87,428.20 L1844.20,415.48 L1848.53,406.47 L1852.86,397.99 L1857.18,390.57 L1861.51,365.13 L1865.84,348.70 L1870.16,377.85 L1874.49,402.76 L1878.82,399.05 L1883.15,384.74 L1887.47,385.80 L1891.80,360.36 L1896.13,368.84 L1900.46,376.26 L1904.78,390.04 L1909.11,400.64 L1913.44,407.00 L1917.77,382.09 L1922.09,386.86 L1926.42,367.25 L1930.75,367.78 L1935.08,383.68 L1939.40,384.74 L1943.73,386.86 L1948.06,376.26 L1952.39,383.68 L1956.71,377.32 L1961.04,383.68 L1965.37,387.92 L1969.70,391.10 L1974.02,395.34 L1978.35,391.10" fill="none" stroke="#023f6c" stroke-width="7.5" stroke-linejoin="round" stroke-linecap="round"/>
</g>
<ellipse cx="1898.8" cy="390.45" rx="96.5" ry="103.45" fill="none" stroke="#ee5541" stroke-width="7.8"/>
</svg>
</body></html>
